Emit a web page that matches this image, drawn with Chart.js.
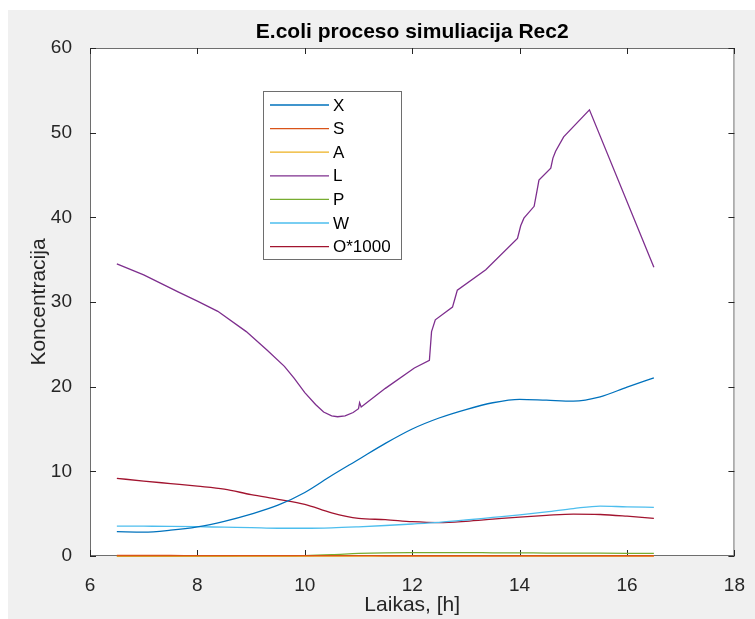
<!DOCTYPE html>
<html>
<head>
<meta charset="utf-8">
<script src="https://cdn.jsdelivr.net/npm/chart.js@4"></script>
<style>
  body { margin: 0; background: #fff; }
  #wrap { position: absolute; left: 8px; top: 10px; width: 747px; height: 609px; background: #f0f0f0; }
</style>
</head>
<body>
<div id="wrap"><canvas id="chart" width="747" height="609"></canvas></div>
<script>
// time grid (h) shared by most series
var laikas = [6.5, 7, 7.5, 8, 8.5, 9, 9.5, 10, 10.5, 11, 11.5, 12, 12.5, 13, 13.5, 14, 14.5, 15, 15.5, 16, 16.5];

var X = [2.87, 2.82, 3.05, 3.45, 4.1, 4.95, 6.0, 7.5, 9.5, 11.4, 13.3, 15.0, 16.3, 17.3, 18.1, 18.5, 18.4, 18.3, 18.8, 19.95, 21.05];
var S = [0.06, 0.06, 0.06, 0.05, 0.05, 0.05, 0.05, 0.04, 0.04, 0.04, 0.03, 0.03, 0.03, 0.03, 0.03, 0.03, 0.03, 0.03, 0.03, 0.03, 0.03];
var A = [0, 0, 0, 0, 0, 0, 0, 0, 0, 0, 0, 0, 0, 0, 0, 0, 0, 0, 0, 0, 0];
var P = [0, 0, 0, 0, 0, 0.01, 0.02, 0.05, 0.15, 0.3, 0.38, 0.4, 0.4, 0.4, 0.38, 0.37, 0.35, 0.34, 0.33, 0.32, 0.3];
var W = [3.54, 3.52, 3.5, 3.46, 3.4, 3.35, 3.28, 3.28, 3.33, 3.45, 3.6, 3.78, 3.98, 4.25, 4.55, 4.85, 5.2, 5.6, 5.9, 5.8, 5.75];
var O = [9.17, 8.85, 8.55, 8.25, 7.9, 7.25, 6.7, 6.1, 5.1, 4.45, 4.3, 4.05, 3.95, 4.1, 4.35, 4.6, 4.8, 4.95, 4.9, 4.7, 4.45];

// L has its own, denser time points (steps and the peak)
var laikasL = [6.5, 7.0, 7.64, 8.0, 8.38, 8.91, 9.3, 9.62, 9.8, 10.0, 10.2, 10.35, 10.5, 10.61, 10.75, 10.9, 11.0, 11.02, 11.05, 11.5, 12.04, 12.32, 12.36, 12.43, 12.75, 12.8, 12.84, 13.37, 13.96, 14.02, 14.08, 14.27, 14.32, 14.36, 14.58, 14.62, 14.67, 14.82, 15.3, 16.5];
var L = [34.5, 33.2, 31.2, 30.1, 28.9, 26.5, 24.3, 22.4, 21.0, 19.3, 17.9, 17.0, 16.55, 16.45, 16.55, 16.95, 17.4, 18.1, 17.6, 19.8, 22.2, 23.1, 26.5, 27.9, 29.4, 30.5, 31.4, 33.8, 37.5, 39.0, 39.9, 41.3, 43.0, 44.4, 45.8, 47.0, 47.8, 49.5, 52.7, 34.1];

var xTicks = [6, 8, 10, 12, 14, 16, 18];
var yTicks = [0, 10, 20, 30, 40, 50, 60];
var seriesNames = ['X', 'S', 'A', 'L', 'P', 'W', 'O*1000'];
var colors = ['#0072BD', '#D95319', '#EDB120', '#7E2F8E', '#77AC30', '#4DBEEE', '#A2142F'];

function pts(t, v) {
  return t.map(function (x, i) { return {x: x, y: v[i]}; });
}

var values = [X, S, A, L, P, W, O];
var datasets = values.map(function (v, i) {
  return {
    label: seriesNames[i],
    data: v === L ? pts(laikasL, L) : pts(laikas, v),
    borderColor: colors[i],
    borderWidth: 1.3,
    pointRadius: 0,
    cubicInterpolationMode: v === L ? 'default' : 'monotone',
    tension: v === L ? 0 : 0.4,
    clip: 4,
    fill: false
  };
});

var font = 'Liberation Sans, Arial, Helvetica, sans-serif';

var matlabAxes = {
  id: 'matlabAxes',
  beforeDraw: function (chart) {
    var a = chart.chartArea, ctx = chart.ctx;
    ctx.save();
    ctx.fillStyle = '#fff';
    ctx.fillRect(a.left, a.top, a.right - a.left, a.bottom - a.top);
    ctx.restore();
  },
  beforeDatasetsDraw: function (chart) {
    var a = chart.chartArea, ctx = chart.ctx;
    var xs = chart.scales.x, ys = chart.scales.y;
    ctx.save();
    // box
    ctx.strokeStyle = '#6e6e6e';
    ctx.lineWidth = 1;
    ctx.strokeRect(a.left + 0.5, a.top + 0.5, a.right - a.left - 1, a.bottom - a.top - 1);
    // inward ticks
    ctx.strokeStyle = '#262626';
    ctx.beginPath();
    xTicks.forEach(function (t) {
      var px = Math.round(xs.getPixelForValue(t)) + 0.5;
      ctx.moveTo(px, a.bottom); ctx.lineTo(px, a.bottom - 6);
      ctx.moveTo(px, a.top); ctx.lineTo(px, a.top + 6);
    });
    yTicks.forEach(function (t) {
      var py = Math.round(ys.getPixelForValue(t)) + 0.5;
      ctx.moveTo(a.left, py); ctx.lineTo(a.left + 6, py);
      ctx.moveTo(a.right, py); ctx.lineTo(a.right - 6, py);
    });
    ctx.stroke();
    ctx.restore();
  },
  afterDraw: function (chart) {
    var a = chart.chartArea, ctx = chart.ctx;
    ctx.save();
    // title
    ctx.fillStyle = '#000';
    ctx.font = 'bold 21px ' + font;
    ctx.textAlign = 'center';
    ctx.textBaseline = 'middle';
    ctx.fillText('E.coli proceso simuliacija Rec2', (a.left + a.right) / 2, 22);

    // legend
    var bx = 255, by = 81, bw = 138, bh = 168;
    ctx.fillStyle = '#fff';
    ctx.fillRect(bx, by, bw, bh);
    ctx.strokeStyle = '#6e6e6e';
    ctx.lineWidth = 1;
    ctx.strokeRect(bx + 0.5, by + 0.5, bw, bh);
    ctx.font = '17px ' + font;
    ctx.textAlign = 'left';
    chart.data.datasets.forEach(function (d, i) {
      var y = by + 14 + i * 23.6;
      ctx.strokeStyle = d.borderColor;
      ctx.lineWidth = 1.3;
      ctx.beginPath();
      ctx.moveTo(bx + 7, y); ctx.lineTo(bx + 66, y);
      ctx.stroke();
      ctx.fillStyle = '#000';
      ctx.fillText(d.label, bx + 70, y + 1);
    });
    ctx.restore();
  }
};

var canvas = document.getElementById('chart').getContext('2d');
window.chart = new Chart(canvas, {
  type: 'line',
  data: { datasets: datasets },
  options: {
    responsive: false,
    animation: false,
    layout: { padding: { top: 38, right: 19, left: 0, bottom: 0 } },
    plugins: { legend: { display: false }, tooltip: { enabled: false } },
    scales: {
      x: {
        type: 'linear',
        min: 6, max: 18,
        afterBuildTicks: function (s) { s.ticks = xTicks.map(function (v) { return {value: v}; }); },
        afterFit: function (s) { s.height = 63; },
        grid: { display: false },
        border: { display: false },
        ticks: { color: '#262626', padding: 10, font: { family: font, size: 19 } },
        title: { display: true, text: 'Laikas, [h]', color: '#262626', padding: { top: 0, bottom: 1 }, font: { family: font, size: 21 } }
      },
      y: {
        min: 0, max: 60,
        afterBuildTicks: function (s) { s.ticks = yTicks.map(function (v) { return {value: v}; }); },
        afterFit: function (s) { s.width = 82; },
        grid: { display: false },
        border: { display: false },
        ticks: { color: '#262626', padding: 10, font: { family: font, size: 19 } },
        title: { display: true, text: 'Koncentracija', color: '#262626', padding: { top: 19, bottom: 0 }, font: { family: font, size: 21 } }
      }
    }
  },
  plugins: [matlabAxes]
});
</script>
</body>
</html>
